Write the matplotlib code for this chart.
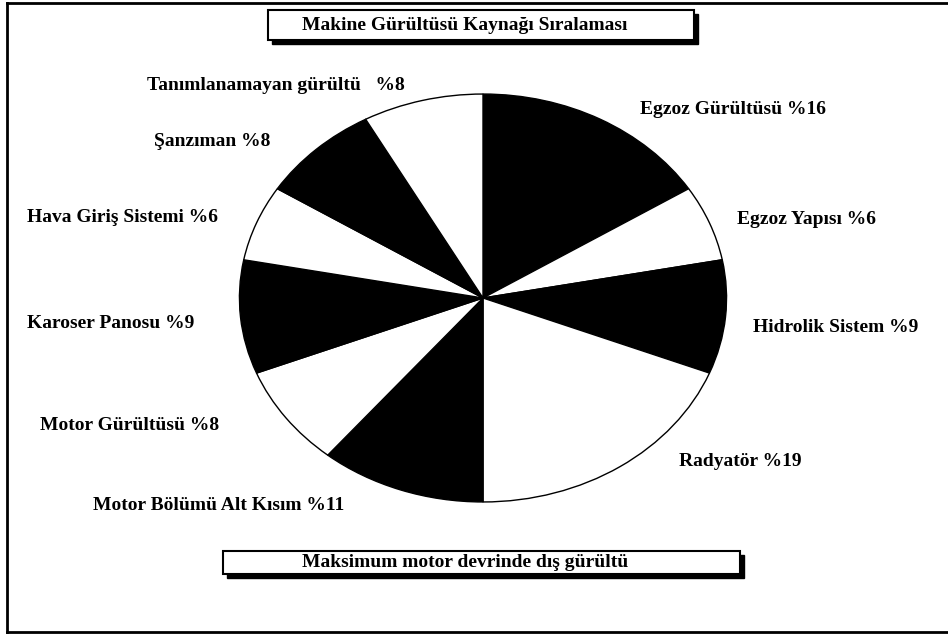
import matplotlib.pyplot as plt
from matplotlib.patches import Rectangle

# veriler
kaynaklar = ["Egzoz Gürültüsü", "Egzoz Yapısı", "Hidrolik Sistem", "Radyatör",
             "Motor Bölümü Alt Kısım", "Motor Gürültüsü", "Karoser Panosu",
             "Hava Giriş Sistemi", "Şanzıman", "Tanımlanamayan gürültü  "]
yuzdeler = [16, 6, 9, 19, 11, 8, 9, 6, 8, 8]
renkler = ["black", "white"] * 5

baslik = "Makine Gürültüsü Kaynağı Sıralaması"
alt_baslik = "Maksimum motor devrinde dış gürültü"

# etiketlerin yerleri (piksel, sol kenar ve dikey orta)
etiket_yerleri = [(640, 110), (737, 220), (753, 327), (679, 462), (93, 505),
                  (40, 426), (27, 323), (27, 218), (154, 142), (147, 86)]

W, H = 948, 634
fig = plt.figure(figsize=(W / 100, H / 100), dpi=100)

# arka plan: piksel koordinatlı eksen
bg = fig.add_axes([0, 0, 1, 1])
bg.set_xlim(0, W)
bg.set_ylim(H, 0)
bg.axis("off")

# çerçeve
bg.plot([7, 7], [3, 632], color="black", lw=2)
bg.plot([7, W], [3, 3], color="black", lw=2)
bg.plot([7, W], [632, 632], color="black", lw=2)

# pasta (elips)
cx, cy, rx, ry = 483, 298, 246, 206
ax = fig.add_axes([(cx - rx) / W, (H - cy - ry) / H, 2 * rx / W, 2 * ry / H])
ax.pie(yuzdeler, colors=renkler, startangle=90, counterclock=False,
       wedgeprops={"edgecolor": "black", "linewidth": 1.0})
ax.set_aspect("auto")
ax.set_xlim(-1.01, 1.01)
ax.set_ylim(-1.01, 1.01)
ax.axis("off")

font = {"family": "Liberation Serif", "weight": "bold", "size": 14}

for ad, y, (px, py) in zip(kaynaklar, yuzdeler, etiket_yerleri):
    bg.text(px, py, f"{ad} %{y}", ha="left", va="center", **font)


def kutu(x0, y0, x1, y1, metin):
    # gölgeli kutu
    bg.add_patch(Rectangle((x0 + 4, y0 + 4), x1 - x0, y1 - y0,
                           facecolor="black", edgecolor="black", lw=1))
    bg.add_patch(Rectangle((x0, y0), x1 - x0, y1 - y0,
                           facecolor="white", edgecolor="black", lw=1.5))
    bg.text((x0 + x1) / 2 - 16, (y0 + y1) / 2, metin, ha="center", va="center",
            **font)


kutu(268, 10, 694, 40, baslik)
kutu(223, 551, 740, 574, alt_baslik)

fig.savefig("out.png", dpi=100)
